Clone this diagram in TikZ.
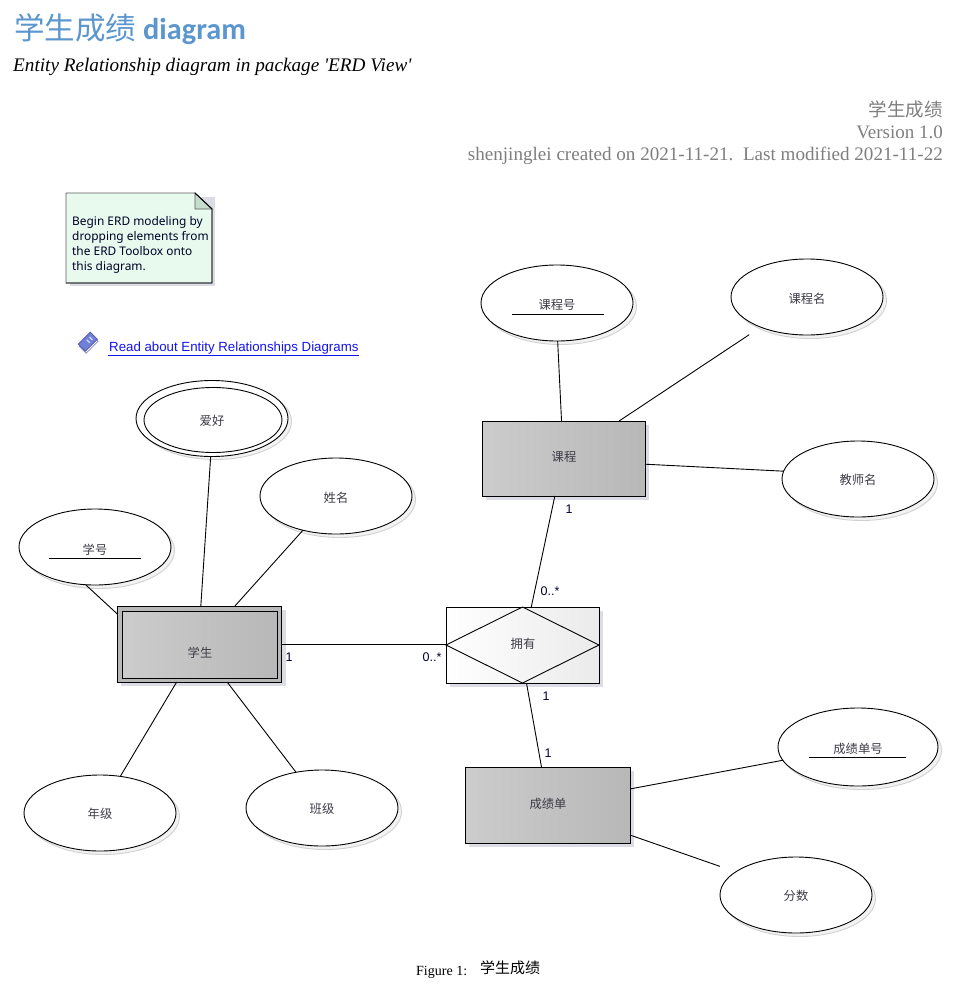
\documentclass[tikz,border=0pt]{standalone}
\usepackage{fontspec}
\setmainfont{Liberation Serif}
\newfontfamily\plainserif{Liberation Serif}
\newfontfamily\cjk{Noto Sans CJK SC}
\newfontfamily\carl{Carlito}
\newfontfamily\lsans{Liberation Sans}
\newfontfamily\nsans{Noto Sans}
\usetikzlibrary{shapes.geometric,shadings}
\definecolor{titleblue}{HTML}{5B96CF}
\definecolor{greytext}{HTML}{7F7F7F}
\definecolor{shadowc}{HTML}{DCDCE4}
\definecolor{notefill}{HTML}{E8FAEE}
\definecolor{foldfill}{HTML}{C6DCCF}
\definecolor{darktext}{HTML}{3C3C46}
\definecolor{linkblue}{HTML}{1414F0}
\definecolor{bookblue}{HTML}{7080D8}
\definecolor{bookedge}{HTML}{5058A8}
\tikzset{
  cjklabel/.style={font=\cjk\fontsize{12.3}{14}\selectfont,text=darktext,inner sep=0pt},
  attr/.style={ellipse,draw=black,fill=white,line width=0.9pt,minimum width=152pt,minimum height=76pt,inner sep=0pt,outer sep=0pt},
  attrsh/.style={ellipse,draw=black!18,fill=black!5,line width=0.9pt,minimum width=152pt,minimum height=76pt,inner sep=0pt,outer sep=0pt},
  entity/.style={rectangle,draw=black,line width=0.9pt,left color=black!20,right color=black!28,inner sep=0pt,outer sep=0pt},
  sh/.style={fill=shadowc,draw=none},
  conn/.style={draw=black,line width=0.9pt},
  card/.style={font=\lsans\fontsize{12.5}{14}\selectfont,text=black!80!blue},
  rt/.style={anchor=base east,text=greytext,inner sep=0pt},
}
\begin{document}
\begin{tikzpicture}[x=1pt,y=-1pt]
\useasboundingbox (0,0) rectangle (974,996);
\fill[white] (0,0) rectangle (974,996);
% headings
\node[anchor=base west,inner sep=0pt,text=titleblue] (ttl) at (14,39) {{\cjk\fontsize{30.5}{32}\selectfont 学生成绩}\hspace{7pt}{\carl\bfseries\fontsize{30.3}{32}\selectfont diagram}};
\node[anchor=base west,inner sep=0pt] (sub) at (13,71) {\plainserif\fontsize{19.2}{22}\selectfont\itshape Entity Relationship diagram in package 'ERD View'};
\node[rt] (r1) at (943,116) {\cjk\fontsize{18.5}{22}\selectfont 学生成绩};
\node[rt] (r2) at (943,138) {\fontsize{19}{22}\selectfont Version 1.0};
\node[rt] (r3) at (943,160) {\fontsize{19.1}{22}\selectfont shenjinglei created on 2021-11-21.\ \ Last modified 2021-11-22};
% note
\fill[shadowc] (70,197) rectangle (215,286);
\draw[fill=notefill,line width=0.9pt,draw=black!65] (66,193) -- (195,193) -- (212,209) -- (212,283) -- (66,283) -- cycle;
\draw[fill=foldfill,line width=0.9pt,draw=black!65] (195,193) -- (195,209) -- (212,209) -- cycle;
\draw[line width=0.9pt] (195,193) -- (212,209) -- (212,283) -- (66,283);
\node[anchor=north west,align=left,inner sep=0pt,text=black!85!blue,font=\nsans\fontsize{11.9}{15}\selectfont] (note) at (72,216) {Begin ERD modeling by\\dropping elements from\\the ERD Toolbox onto\\this diagram.};
% link
\begin{scope}[shift={(87.5,342)},rotate=-45]
  \draw[fill=white,draw=bookedge!70,line width=0.7pt] (-3,-8) rectangle (7,9);
  \draw[fill=bookblue,draw=bookedge,line width=0.7pt] (-5,-9) rectangle (5,8);
  \draw[white!75!bookblue,line width=1.2pt] (-2,-5) -- (2,-5) (-2,-1) -- (2,-1);
\end{scope}
\node[anchor=base west,inner sep=0pt,text=linkblue,font=\lsans\fontsize{13.27}{15}\selectfont] (lnk) at (109,351) {Read about Entity Relationships Diagrams};
\draw[linkblue,line width=0.9pt] (108,355.5) -- (359,355.5);
% shadows
\foreach \x/\y in {212/418,336/496,95/547,100/813,322/808,557/303,807/297,858/479,796/895}
  \node[attrsh] at (\x+3.5,\y+3.5) {};
\node[attrsh,minimum width=160pt,minimum height=78pt] at (861.5,750.5) {};
\fill[sh] (121,610) rectangle (286,686);
\fill[sh] (486,425) rectangle (649,500);
\fill[sh] (450,611) rectangle (603,687);
\fill[sh] (469,771) rectangle (634,847);
% attributes
\node[attr] (aihao) at (212,418.5) {};
\node[attr,minimum width=138pt,minimum height=65pt] (aihaoin) at (213,420) {};
\node[attr] (xingming) at (336,496) {};
\node[attr] (xuehao) at (95,547) {};
\node[attr] (nianji) at (100,813) {};
\node[attr] (banji) at (322,808) {};
\node[attr] (khao) at (557,303) {};
\node[attr] (kming) at (807,297) {};
\node[attr] (jiaoshi) at (858,479) {};
\node[attr,minimum width=160pt,minimum height=78pt] (cjhao) at (858,747) {};
\node[attr] (fenshu) at (796,895) {};
\draw[line width=0.9pt] (49,558) -- (141,558);
\draw[line width=0.9pt] (512,314) -- (604,314);
\draw[line width=0.9pt] (809,757) -- (906,757);
% entities
\node[rectangle,draw=black,fill=black!28,line width=0.9pt,minimum width=164pt,minimum height=76pt,inner sep=0pt,outer sep=0pt] (xs) at (199.5,644) {};
\node[entity,minimum width=155pt,minimum height=67pt] (xsin) at (199.5,644.5) {};
\node[entity,minimum width=163pt,minimum height=75pt] (kc) at (563.5,458.5) {};
\node[entity,minimum width=165pt,minimum height=76pt] (cjd) at (547.5,805) {};
\node[rectangle,draw=black,line width=0.9pt,left color=white,right color=black!8,minimum width=153pt,minimum height=76pt,inner sep=0pt,outer sep=0pt] (yy) at (522.5,645) {};
\draw[line width=0.9pt] (yy.west) -- (yy.north) -- (yy.east) -- (yy.south) -- cycle;
% element names
\node[cjklabel] (t1) at (212,421) {爱好};
\node[cjklabel] (t2) at (336,498) {姓名};
\node[cjklabel] (t3) at (95,550) {学号};
\node[cjklabel] (t4) at (100,814) {年级};
\node[cjklabel] (t5) at (322,809) {班级};
\node[cjklabel] (t6) at (557,305) {课程号};
\node[cjklabel] (t7) at (807,299) {课程名};
\node[cjklabel] (t8) at (858,480) {教师名};
\node[cjklabel] (t9) at (858,749) {成绩单号};
\node[cjklabel] (t10) at (796,896) {分数};
\node[cjklabel] (t11) at (200,653) {学生};
\node[cjklabel] (t12) at (564,457) {课程};
\node[cjklabel] (t13) at (548,804) {成绩单};
\node[cjklabel] (t14) at (523,644) {拥有};
% connectors
\draw[conn] (aihao.268.5) -- (xs.88);
\draw[conn] (xingming.226.6) -- (xs.47.8);
\draw[conn] (xuehao.256.7) -- (xs.160);
\draw[conn] (nianji.61) -- (xs.239.4);
\draw[conn] (banji.126.4) -- (xs.306.9);
\draw[conn] (xs.east) -- (xs.east -| yy.west);
\draw[conn] (khao.271.5) -- (kc.93.8);
\draw[conn,shorten <=13.7pt] (kming.213.7) -- (kc.34);
\draw[conn] (jiaoshi.174.7) -- (kc.356.1);
\draw[conn] (kc.257.2) -- (yy.77.4);
\draw[conn] (yy.276.8) -- (cjd.99.7);
\draw[conn] (cjd.11) -- (cjhao.190.6);
\draw[conn,shorten >=16.8pt] (cjd.340.2) -- (fenshu.159);
% cardinalities
\node[card] (c1) at (289,657) {1};
\node[card] (c2) at (432,657) {0..*};
\node[card] (c3) at (569,509) {1};
\node[card] (c4) at (550,591) {0..*};
\node[card] (c5) at (546,696) {1};
\node[card] (c6) at (548,753) {1};
% caption
\node[anchor=base west,inner sep=0pt] (cap) at (416,975) {\fontsize{14}{16}\selectfont Figure 1:};
\node[anchor=base west,inner sep=0pt] (cap2) at (480,973) {\cjk\fontsize{15}{16}\selectfont 学生成绩};
\end{tikzpicture}
\end{document}
